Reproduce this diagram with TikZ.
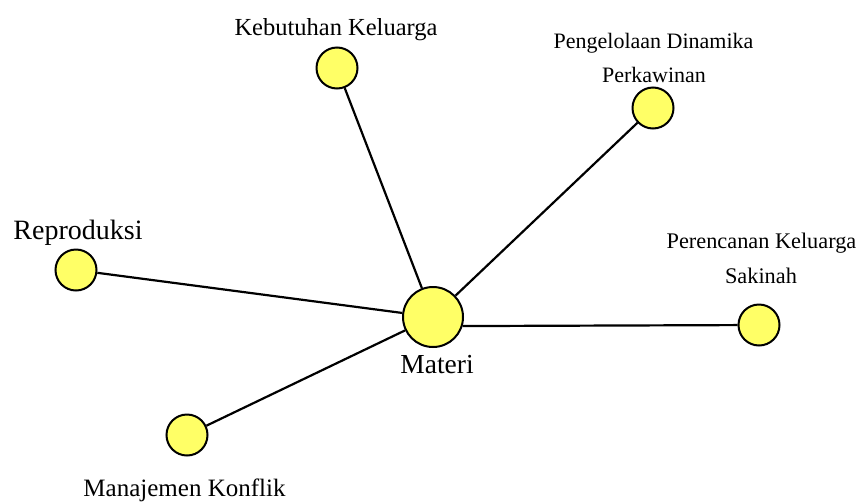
\documentclass[tikz,border=0pt]{standalone}
\usepackage{fontspec}
\setmainfont{Liberation Serif}
\definecolor{dotyellow}{RGB}{255,255,102}
\begin{document}
\begin{tikzpicture}[x=1pt,y=-1pt,
  dot/.style={circle,draw=black,line width=2pt,fill=dotyellow,inner sep=0pt,minimum size=#1},
  lab/.style={anchor=base,inner sep=0pt,font=\fontsize{#1}{#1}\selectfont},
  link/.style={line width=2.2pt,draw=black}]
\useasboundingbox (0,0) rectangle (858,501);
\node[dot=60pt] (materi) at (433,317) {};
\node[dot=41pt] (kebutuhan) at (337,68) {};
\node[dot=41pt] (pengelolaan) at (653,108) {};
\node[dot=41pt] (reproduksi) at (76,270) {};
\node[dot=41pt] (perencanan) at (759,325) {};
\node[dot=41pt] (manajemen) at (187,435) {};
\draw[link] (materi) -- (kebutuhan);
\draw[link] (materi) -- (pengelolaan);
\draw[link] (materi) -- (reproduksi);
\draw[link] (materi.-17) -- (perencanan);
\draw[link] (materi) -- (manajemen);
\node[lab=24.5] (tkeb) at (336,35) {Kebutuhan Keluarga};
\node[lab=22] (tpen1) at (653.5,48) {Pengelolaan Dinamika};
\node[lab=22] (tpen2) at (654,82) {Perkawinan};
\node[lab=28] (trep) at (78,239) {Reproduksi};
\node[lab=22.3] (tper1) at (761.5,248) {Perencanan Keluarga};
\node[lab=22.3] (tper2) at (761,283) {Sakinah};
\node[lab=27.5] (tmat) at (437,373) {Materi};
\node[lab=25] (tman) at (184.5,496) {Manajemen Konflik};
\end{tikzpicture}
\end{document}
